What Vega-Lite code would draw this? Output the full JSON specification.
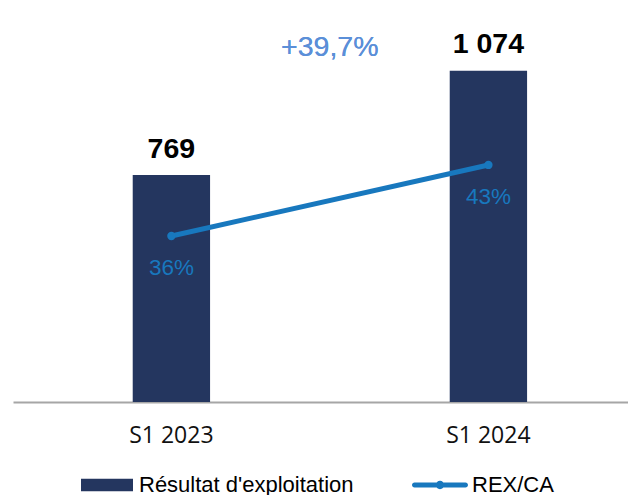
{
  "$schema": "https://vega.github.io/schema/vega-lite/v6.json",
  "autosize": "none",
  "width": 615,
  "height": 402,
  "padding": {"left": 13, "top": 0, "right": 0, "bottom": 93},
  "data": {
    "values": [
      {"periode": "S1 2023", "rex": 769, "rex_label": "769", "ratio": 36, "ratio_label": "36%", "serie": "Résultat d'exploitation"},
      {"periode": "S1 2024", "rex": 1074, "rex_label": "1 074", "ratio": 43, "ratio_label": "43%", "serie": "Résultat d'exploitation"}
    ]
  },
  "encoding": {
    "x": {
      "field": "periode",
      "type": "nominal",
      "sort": null,
      "scale": {"paddingInner": 0.756, "paddingOuter": 0.348, "align": 0.5426},
      "axis": {
        "title": null,
        "labelAngle": 0,
        "ticks": false,
        "tickSize": 0,
        "labelPadding": 40,
        "labelBaseline": "alphabetic",
        "labelFont": "Open Sans",
        "labelFontSize": 23,
        "labelColor": "#111111",
        "domainColor": "#A6A6A6",
        "domainWidth": 2,
        "grid": false
      }
    }
  },
  "layer": [
    {
      "encoding": {
        "y": {
          "type": "quantitative",
          "scale": {"domain": [105.3, 1280.8], "zero": false, "nice": false},
          "axis": null
        }
      },
      "layer": [
        {
          "mark": {"type": "bar", "color": "#24365F"},
          "encoding": {
            "y": {"field": "rex", "type": "quantitative"},
            "y2": {"datum": 105.3},
            "color": {
              "field": "serie",
              "type": "nominal",
              "scale": {"domain": ["Résultat d'exploitation", "REX/CA"], "range": ["#24365F", "#1878BE"]},
              "legend": {
                "title": null,
                "orient": "none",
                "direction": "horizontal",
                "legendX": 68,
                "legendY": 459,
                "symbolSize": 2704,
                "symbolStrokeWidth": 0,
                "labelFont": "Liberation Sans",
                "labelFontSize": 22,
                "labelColor": "#000000",
                "labelOffset": 6,
                "columnPadding": 58,
                "labelLimit": 400,
                "encode": {
                  "symbols": {
                    "update": {
                      "shape": {"signal": "datum.value === 'REX/CA' ? 'M-0.98,-0.096L0.98,-0.096A0.096,0.096 0 0,1 0.98,0.096L-0.98,0.096A0.096,0.096 0 0,1 -0.98,-0.096Z M0.16,0A0.16,0.16 0 1,1 -0.16,0A0.16,0.16 0 1,1 0.16,0Z' : 'M-1,-0.245L1,-0.245L1,0.245L-1,0.245Z'"},
                      "strokeWidth": {"value": 0}
                    }
                  }
                }
              }
            }
          }
        },
        {
          "mark": {"type": "text", "font": "Liberation Sans", "fontWeight": "bold", "fontSize": 28.5, "color": "#000000", "baseline": "alphabetic", "dy": -17.5},
          "encoding": {
            "y": {"field": "rex", "type": "quantitative"},
            "text": {"field": "rex_label"}
          }
        },
        {
          "mark": {"type": "text", "font": "Liberation Sans", "fontSize": 28.5, "color": "#5B8FD8", "baseline": "alphabetic", "dx": 158.4},
          "encoding": {
            "x": {"datum": "S1 2023"},
            "y": {"datum": 1117},
            "text": {"value": "+39,7%"}
          }
        }
      ]
    },
    {
      "encoding": {
        "y": {
          "type": "quantitative",
          "scale": {"domain": [19.63, 59.26], "zero": false, "nice": false},
          "axis": null
        }
      },
      "layer": [
        {
          "mark": {"type": "line", "color": "#1878BE", "strokeWidth": 5, "point": {"filled": true, "size": 70, "color": "#1878BE"}},
          "encoding": {
            "y": {"field": "ratio", "type": "quantitative"}
          }
        },
        {
          "mark": {"type": "text", "font": "Liberation Sans", "fontSize": 22.5, "color": "#1878BE", "baseline": "alphabetic", "dy": 39},
          "encoding": {
            "y": {"field": "ratio", "type": "quantitative"},
            "text": {"field": "ratio_label"}
          }
        }
      ]
    }
  ],
  "resolve": {"scale": {"y": "independent"}},
  "config": {
    "view": {"stroke": null},
    "font": "Liberation Sans"
  }
}
